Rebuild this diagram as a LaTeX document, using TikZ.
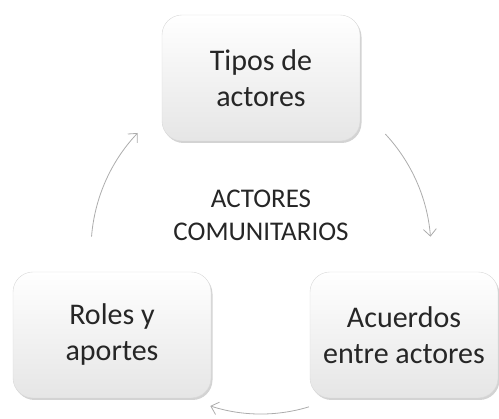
\documentclass[tikz,border=0pt]{standalone}
\usepackage{fontspec}
\setmainfont{Carlito}
\usetikzlibrary{positioning,arrows.meta,shadows}

\begin{document}
\begin{tikzpicture}[x=1pt, y=-1pt,
    box/.style={draw=gray!30, rounded corners=20pt, minimum width=198pt, minimum height=126pt,
        top color=white, bottom color=gray!20, align=center, text=black!85,
        font=\fontsize{30}{36}\selectfont,
        drop shadow={shadow xshift=1.5pt, shadow yshift=-2pt, opacity=0.35}},
    cyc/.style={draw=gray!65, line width=0.8pt, -{Straight Barb[length=7pt,width=13pt]}}]
    \useasboundingbox (0,0) rectangle (499,419);

    \coordinate (O) at (261,250);
    \node [box] (T) at (261,78) {Tipos de\\actores};
    \node [box, minimum width=188pt] (A) at (404,335) {Acuerdos\\entre actores};
    \node [box] (R) at (112,335) {Roles y\\aportes};
    \node [align=center, text=black!85, font=\fontsize{27}{33}\selectfont] (C) at (261,215) {ACTORES\\COMUNITARIOS};

    \draw [cyc] ([shift={(-43:170)}]O) arc [start angle=-43, end angle=-4.5, radius=170];
    \draw [cyc] ([shift={(73:164)}]O) arc [start angle=73, end angle=108, radius=164];
    \draw [cyc] ([shift={(184.5:170)}]O) arc [start angle=184.5, end angle=223.5, radius=170];
\end{tikzpicture}
\end{document}
